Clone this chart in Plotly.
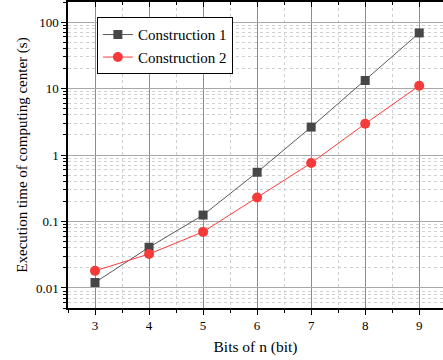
import plotly.graph_objects as go

bits = [3, 4, 5, 6, 7, 8, 9]
construction1 = [0.0121, 0.041, 0.125, 0.55, 2.63, 13.2, 68.5]
construction2 = [0.0181, 0.0324, 0.0698, 0.229, 0.757, 2.95, 11.0]
y_tickvals = [0.01, 0.1, 1, 10, 100]
y_ticktext = ["0.01", "0.1", "1", "10", "100"]
x_tickvals = [3, 4, 5, 6, 7, 8, 9]

FONT = "Liberation Serif"

fig = go.Figure()
fig.add_trace(go.Scatter(
    x=bits, y=construction1, mode="lines+markers", name="Construction 1",
    line=dict(color="#5a5a5a", width=1),
    marker=dict(symbol="square", size=9, color="#474747"),
))
fig.add_trace(go.Scatter(
    x=bits, y=construction2, mode="lines+markers", name="Construction 2",
    line=dict(color="#ff3b3b", width=1),
    marker=dict(symbol="circle", size=10, color="#f53a3a"),
))
fig.add_trace(go.Scatter(x=[bits[0]], y=[construction1[0]], xaxis="x2",
                         mode="markers", marker=dict(opacity=0),
                         showlegend=False, hoverinfo="skip"))

xr = [2.5, 9.44]
fig.update_layout(
    width=443, height=360,
    margin=dict(l=68, r=0, t=2, b=52),
    paper_bgcolor="white", plot_bgcolor="white",
    font=dict(family=FONT, size=13, color="black"),
    showlegend=True,
    legend=dict(x=0.077, y=0.95, xanchor="left", yanchor="top",
                bgcolor="white", bordercolor="black", borderwidth=1,
                font=dict(family=FONT, size=15, color="black"),
                tracegroupgap=0, itemwidth=30),
    xaxis=dict(
        range=xr, tickvals=x_tickvals, ticks="outside", ticklen=5, tickwidth=1,
        tickcolor="black", showline=True, linecolor="black", linewidth=1.5,
        showgrid=True, gridcolor="#8c8c8c", gridwidth=1,
        zeroline=False,
        minor=dict(dtick=0.5, ticks="outside", ticklen=3, tickcolor="black",
                   showgrid=True, gridcolor="#cfcfcf", griddash="dot", gridwidth=1),
        title=dict(text="Bits of n (bit)", font=dict(family=FONT, size=15.5), standoff=9),
        tickfont=dict(family=FONT, size=13),
    ),
    xaxis2=dict(
        range=xr, overlaying="x", side="top", tickvals=x_tickvals,
        ticks="inside", ticklen=5, tickcolor="black", showticklabels=False,
        showline=True, linecolor="black", linewidth=1.5, showgrid=False,
        zeroline=False,
        minor=dict(dtick=0.5, ticks="inside", ticklen=3, tickcolor="black", showgrid=False),
    ),
    yaxis=dict(
        type="log", range=[-2.301, 2.301], tickvals=y_tickvals, ticktext=y_ticktext,
        ticks="outside", ticklen=5, tickcolor="black", showline=True,
        linecolor="black", linewidth=1.5, showgrid=True, gridcolor="#a8a8a8",
        gridwidth=1.3, zeroline=False,
        minor=dict(dtick="D1", ticks="outside", ticklen=3, tickcolor="black",
                   showgrid=True, gridcolor="#d0d0d0", griddash="dot", gridwidth=1),
        title=dict(text="Execution time of computing center (s)",
                   font=dict(family=FONT, size=15), standoff=5),
        tickfont=dict(family=FONT, size=13),
    ),
)

fig.write_html("out.html")
